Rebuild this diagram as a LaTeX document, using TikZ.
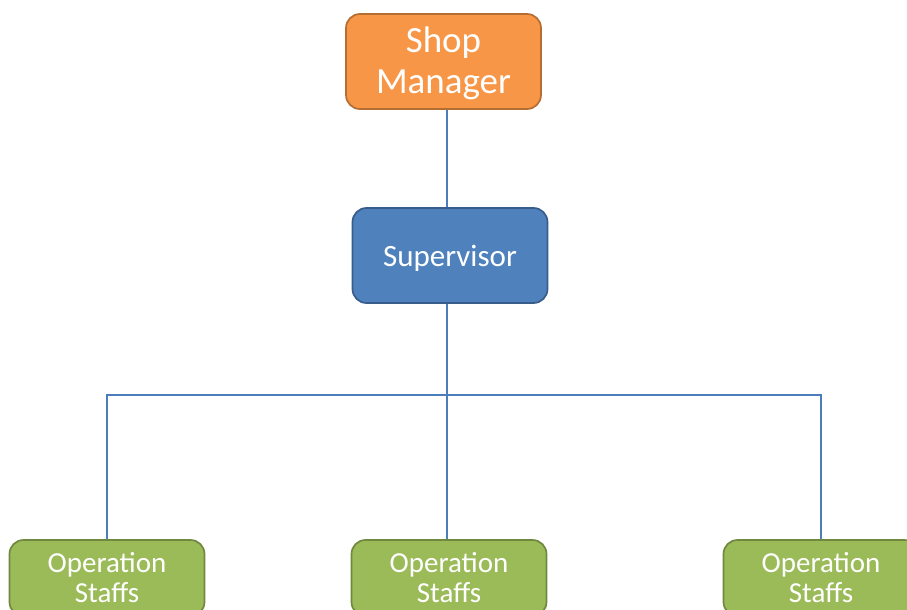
\documentclass[tikz,border=0pt]{standalone}
\usepackage{fontspec}
\setmainfont{Carlito}
\definecolor{orangef}{HTML}{F79646}
\definecolor{oranged}{HTML}{B66D31}
\definecolor{bluef}{HTML}{4F81BD}
\definecolor{blued}{HTML}{385D8A}
\definecolor{greenf}{HTML}{9BBB59}
\definecolor{greend}{HTML}{71893F}
\definecolor{linec}{HTML}{4A7EBB}
\begin{document}
\begin{tikzpicture}[x=1pt,y=-1pt,
  box/.style={draw, line width=1.7pt, rounded corners=14pt, minimum width=195pt,
    minimum height=95pt, text=white, align=center, inner sep=0pt},
  staff/.style={box, fill=greenf, draw=greend, minimum height=76pt,
    font=\fontsize{29}{30}\selectfont},
  conn/.style={draw=linec, line width=1.2pt}]
\useasboundingbox (0,0) rectangle (907,610);
\clip (0,0) rectangle (907,610);
\fill[white] (0,0) rectangle (907,610);
\coordinate (trunk) at (447,0);
\coordinate (bus) at (447,395);
\node[box, fill=orangef, draw=oranged, font=\fontsize{37}{41}\selectfont, text depth=2pt] (mgr) at (443.5,61.5) {Shop\\Manager};
\node[box, fill=bluef, draw=blued, font=\fontsize{31}{34}\selectfont, text height=26pt] (sup) at (450,255.5) {Supervisor};
\node[staff] (s1) at (107,578) {Operation\\Staffs};
\node[staff] (s2) at (449,578) {Operation\\Staffs};
\node[staff] (s3) at (821,578) {Operation\\Staffs};
\draw[conn] (mgr.south -| trunk) -- (sup.north -| trunk);
\draw[conn] (sup.south -| trunk) -- (bus) -- (bus |- s2.north);
\draw[conn] (s1.north) -- (s1.north |- bus) -- (s3.north |- bus) -- (s3.north);
\end{tikzpicture}
\end{document}
